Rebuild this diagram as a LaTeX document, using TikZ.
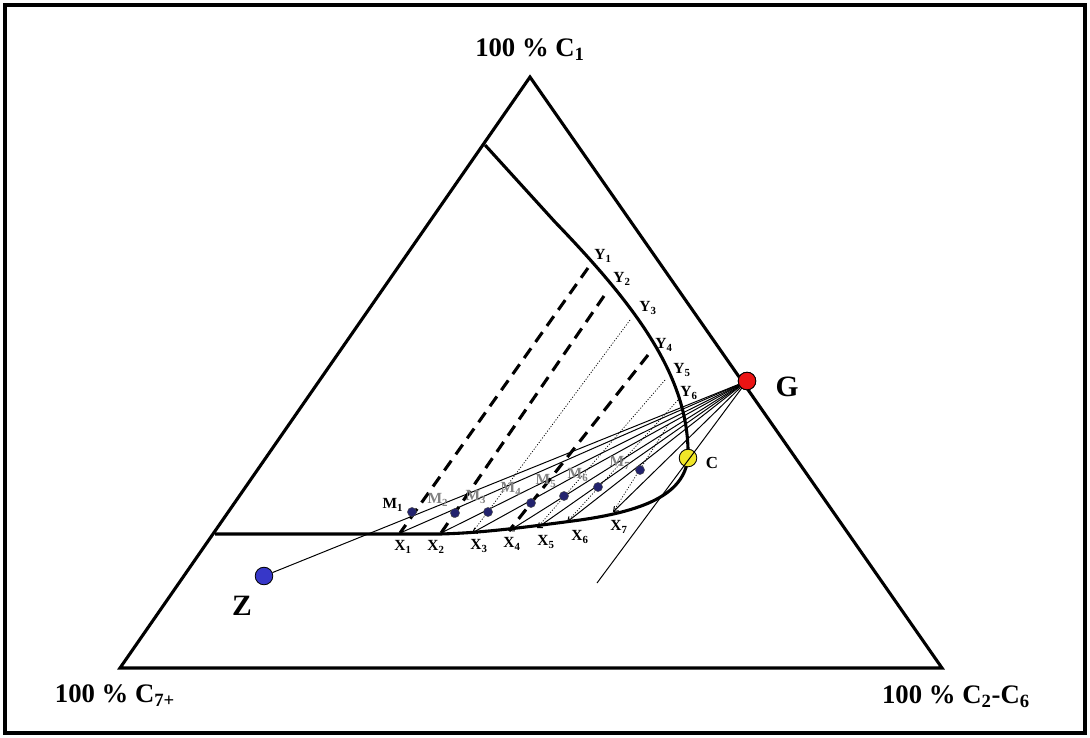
\documentclass[tikz,border=0pt]{standalone}
\usepackage{fontspec}
\setmainfont{Liberation Serif}
\usepackage{xcolor}
\usepackage{tikz}
\usetikzlibrary{arrows.meta}

\definecolor{navy}{RGB}{35,35,110}
\definecolor{zblue}{RGB}{55,55,200}
\definecolor{gred}{RGB}{235,20,20}
\definecolor{cyellow}{RGB}{240,230,40}

\begin{document}
\begin{tikzpicture}[
    x=0.025cm, y=-0.025cm,
    font=\bfseries,
    frame/.style={line width=2.2pt},
    side/.style={line width=2.2pt, line join=miter},
    envelope/.style={line width=2.2pt, line join=round},
    fan/.style={line width=0.7pt},
    fanarrow/.style={fan, -{Straight Barb[length=3pt,width=4.5pt]}},
    tiedash/.style={line width=2.2pt, dash pattern=on 8.5pt off 5.5pt},
    tiedot/.style={line width=0.5pt, dash pattern=on 0.8pt off 1.2pt},
    corner/.style={font=\fontsize{19}{22}\selectfont\bfseries, inner sep=0pt},
    pointlabel/.style={font=\fontsize{21}{24}\selectfont\bfseries, inner sep=0pt},
    small/.style={font=\fontsize{11}{13}\selectfont\bfseries, inner sep=0pt},
    faint/.style={small, text=black!50},
    ball/.style={circle, draw=black, line width=0.6pt, inner sep=0pt, minimum size=12.5pt},
    mix/.style={circle, fill=navy, draw=black!70, line width=0.3pt, inner sep=0pt, minimum size=6.5pt}
]
\useasboundingbox (0,0) rectangle (1090,737);
\draw[frame] (5,5) rectangle (1085,733);

% ternary triangle
\coordinate (top) at (530,77);
\coordinate (left) at (120,668);
\coordinate (right) at (942,668);
\draw[side] (left) -- (top) -- (right) -- cycle;

\node[corner] (ctop) at (530,50) {100 \% C\textsubscript{1}};
\node[corner] (cleft) at (115,696) {100 \% C\textsubscript{7+}};
\node[corner] (cright) at (956,697) {100 \% C\textsubscript{2}-C\textsubscript{6}};

% phase envelope
\draw[envelope] (485,145) -- (555,222)
    .. controls (640,310) and (690,380) .. (688,458)
    .. controls (684,492) and (650,510) .. (580,520)
    .. controls (520,528) and (480,533) .. (440,534) -- (215,534);

% tie line ends
\coordinate (Y1) at (588,268);
\coordinate (Y2) at (604,296);
\coordinate (Y3) at (630,320);
\coordinate (Y4) at (648,355);
\coordinate (Y5) at (665,380);
\coordinate (Y6) at (678,400);
\coordinate (Y7) at (668,425);
\coordinate (X1) at (400,533);
\coordinate (X2) at (441,533);
\coordinate (X3) at (472,533);
\coordinate (X4) at (509,531);
\coordinate (X5) at (537,528);
\coordinate (X6) at (567,522);
\coordinate (X7) at (613,512);
\coordinate (tail) at (597,583);

% tie lines
\draw[tiedash] (Y1) -- (X1);
\draw[tiedash] (Y2) -- (X2);
\draw[tiedot] (Y3) -- (X3);
\draw[tiedash] (Y4) -- (X4);
\draw[tiedot] (Y5) -- (X5);
\draw[tiedot] (Y6) -- (X6);
\draw[tiedot] (Y7) -- (X7);

% injection gas, reservoir fluid, critical point
\node[ball, fill=gred] (G) at (747,381) {};
\node[ball, fill=zblue] (Z) at (264,576) {};
\node[ball, fill=cyellow] (C) at (688,458) {};

\draw[fan] (Z) -- (G);
\foreach \i in {1,...,7}
    \draw[fanarrow] (G) -- (X\i);
\draw[fan] (G.center) -- (tail);
\node[ball, fill=gred] at (G) {};

% mixtures
\node[mix] (M1) at (412,512) {};
\node[mix] (M2) at (455,513) {};
\node[mix] (M3) at (488,512) {};
\node[mix] (M4) at (531,503) {};
\node[mix] (M5) at (564,496) {};
\node[mix] (M6) at (598,487) {};
\node[mix] (M7) at (640,470) {};

\node[small] (lM1) at (393,505) {M\textsubscript{1}};
\node[faint] (lM2) at (438,500) {M\textsubscript{2}};
\node[faint] (lM3) at (476,497) {M\textsubscript{3}};
\node[faint] (lM4) at (511,489) {M\textsubscript{4}};
\node[faint] (lM5) at (546,481) {M\textsubscript{5}};
\node[faint] (lM6) at (578,475) {M\textsubscript{6}};
\node[faint] (lM7) at (620,463) {M\textsubscript{7}};

\node[small] (lY1) at (603,256) {Y\textsubscript{1}};
\node[small] (lY2) at (622,279) {Y\textsubscript{2}};
\node[small] (lY3) at (648,308) {Y\textsubscript{3}};
\node[small] (lY4) at (664,345) {Y\textsubscript{4}};
\node[small] (lY5) at (682,370) {Y\textsubscript{5}};
\node[small] (lY6) at (689,393) {Y\textsubscript{6}};

\node[small] (lX1) at (403,547) {X\textsubscript{1}};
\node[small] (lX2) at (436,547) {X\textsubscript{2}};
\node[small] (lX3) at (479,546) {X\textsubscript{3}};
\node[small] (lX4) at (512,544) {X\textsubscript{4}};
\node[small] (lX5) at (546,542) {X\textsubscript{5}};
\node[small] (lX6) at (580,537) {X\textsubscript{6}};
\node[small] (lX7) at (619,527) {X\textsubscript{7}};

\node[pointlabel] (lG) at (787,387) {G};
\node[pointlabel] (lZ) at (242,606) {Z};
\node[small, font=\fontsize{12}{14}\selectfont\bfseries] (lC) at (712,463) {C};
\end{tikzpicture}
\end{document}
